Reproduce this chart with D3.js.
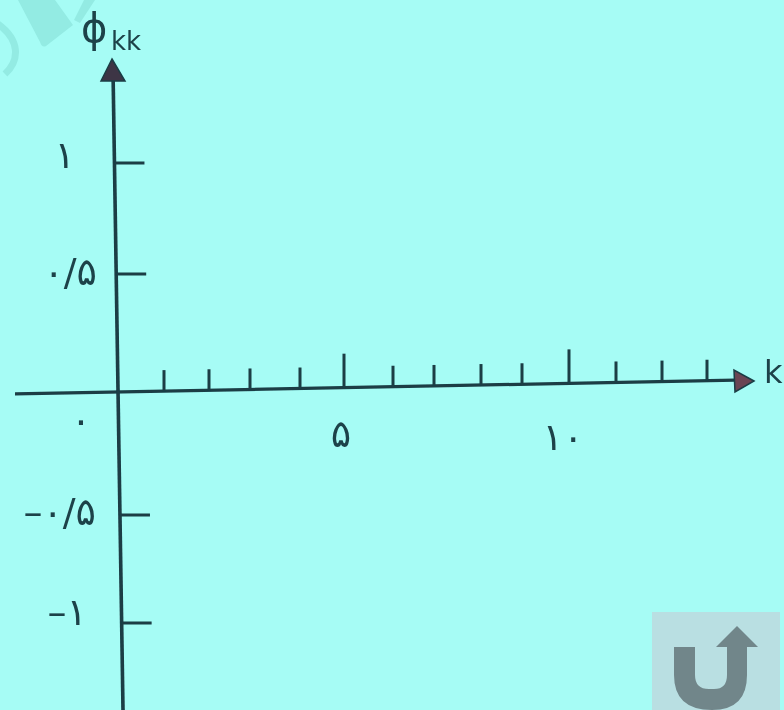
<!DOCTYPE html>
<html>
<head>
<meta charset="utf-8">
<script src="https://cdnjs.cloudflare.com/ajax/libs/d3/7.8.5/d3.min.js"></script>
<style>
html, body { margin: 0; padding: 0; background: #a6fcf5; }
svg { display: block; }
text { font-family: "DejaVu Sans", sans-serif; fill: #1f4249; }
</style>
</head>
<body>
<svg id="chart" width="784" height="710"></svg>
<script>
// the axes are hand drawn, so each scale is pinned at every tick
const kTicks = [0, 1, 2, 3, 4, 5, 6, 7, 8, 9, 10, 11, 12, 13];
const kPixels = [118, 164, 209, 250, 300, 344, 393, 434, 481, 522, 569, 616, 662, 707];
const kLong = [5, 10];
const kValues = [0, 5, 10];
const kLabels = ["۰", "۵", "۱۰"];

const phiTicks = [-1, -0.5, 0.5, 1];
const phiDomain = [-1, -0.5, 0, 0.5, 1];
const phiPixels = [623, 515, 391, 274, 163];
const phiLabels = ["–۱", "–۰/۵", "۰/۵", "۱"];

// hand placed labels, same order as the arrays above
const kLabelX = [81, 341, 563];
const kLabelY = [433, 447, 450];
const phiLabelX = [87, 96, 97, 75];
const phiLabelY = [625, 525, 285, 168];

const ink = "#1a3d45";
const wash = "#93ebe3";
const width = 784, height = 710;

const x = d3.scaleLinear().domain(kTicks).range(kPixels);
const y = d3.scaleLinear().domain(phiDomain).range(phiPixels);

// both axes lean a little on the page
const axisX = py => 113 + (py - 70) * 10 / 640;
const axisY = px => 392 - (px - 118) * 12 / 627;

const svg = d3.select("#chart");
const defs = svg.append("defs");
defs.append("filter").attr("id", "scan")
    .append("feGaussianBlur").attr("stdDeviation", 0.6);

svg.append("rect").attr("width", width).attr("height", height).attr("fill", "#a6fcf5");

// faint site watermark, top left
const mark = svg.append("g");
mark.append("path")
    .attr("d", "M-2,24 C20,40 20,60 5,74")
    .attr("fill", "none").attr("stroke", wash).attr("stroke-width", 7);
mark.append("path")
    .attr("d", "M18,0 L40,42 Q42,48 46,46 L73,25 L55,0 Z")
    .attr("fill", wash);
mark.append("path")
    .attr("d", "M74,20 L80,23 L95,0 L84,0 Z")
    .attr("fill", wash);

const chart = svg.append("g").attr("filter", "url(#scan)");

// main axes
chart.append("line")
    .attr("x1", 15).attr("y1", axisY(15))
    .attr("x2", 735).attr("y2", axisY(735))
    .attr("stroke", ink).attr("stroke-width", 3.2);
chart.append("line")
    .attr("x1", axisX(78)).attr("y1", 78)
    .attr("x2", axisX(710)).attr("y2", 710)
    .attr("stroke", ink).attr("stroke-width", 3.6);

chart.append("path")
    .attr("d", "M112,59 L125,81 L101,81 Z")
    .attr("fill", "#3d3644").attr("stroke", ink).attr("stroke-width", 1.5);
chart.append("path")
    .attr("d", "M754,381 L734,370 L735,392 Z")
    .attr("fill", "#6a4553").attr("stroke", ink).attr("stroke-width", 1.5);

// k ticks
chart.selectAll(".k-tick")
    .data(kTicks.filter(d => d > 0))
    .join("line")
    .attr("class", "k-tick")
    .attr("x1", d => x(d)).attr("x2", d => x(d))
    .attr("y1", d => axisY(x(d)))
    .attr("y2", d => axisY(x(d)) - (kLong.includes(d) ? 34 : 21))
    .attr("stroke", ink).attr("stroke-width", 3);

// phi ticks
chart.selectAll(".phi-tick")
    .data(phiTicks)
    .join("line")
    .attr("class", "phi-tick")
    .attr("x1", d => axisX(y(d)))
    .attr("x2", d => axisX(y(d)) + 30)
    .attr("y1", d => y(d)).attr("y2", d => y(d))
    .attr("stroke", ink).attr("stroke-width", 3);

// labels
chart.selectAll(".k-label")
    .data(kValues)
    .join("text")
    .attr("class", "k-label")
    .attr("x", (d, i) => kLabelX[i])
    .attr("y", (d, i) => kLabelY[i])
    .attr("font-size", 38)
    .attr("text-anchor", "middle")
    .text((d, i) => kLabels[i]);

chart.selectAll(".phi-label")
    .data(phiTicks)
    .join("text")
    .attr("class", "phi-label")
    .attr("x", (d, i) => phiLabelX[i])
    .attr("y", (d, i) => phiLabelY[i])
    .attr("font-size", 38)
    .attr("text-anchor", "end")
    .text((d, i) => phiLabels[i]);

chart.append("text").attr("x", 81).attr("y", 42).attr("font-size", 40).text("ϕ");
chart.append("text").attr("x", 111).attr("y", 50).attr("font-size", 26).text("kk");
chart.append("text").attr("x", 764).attr("y", 383).attr("font-size", 32).text("k");

// return badge, bottom right
const badge = svg.append("g");
badge.append("rect")
    .attr("x", 652).attr("y", 612).attr("width", 128).attr("height", 98)
    .attr("fill", "#b9dfe2");
badge.append("path")
    .attr("d", "M674,647 L695,647 L695,675 Q695,689 709,689 L714,689 Q727,689 727,675 L727,647 L716,647 L737,626 L758,647 L747,647 L747,675 Q747,710 712,710 Q674,710 674,675 Z")
    .attr("fill", "#71868a");
</script>
</body>
</html>
